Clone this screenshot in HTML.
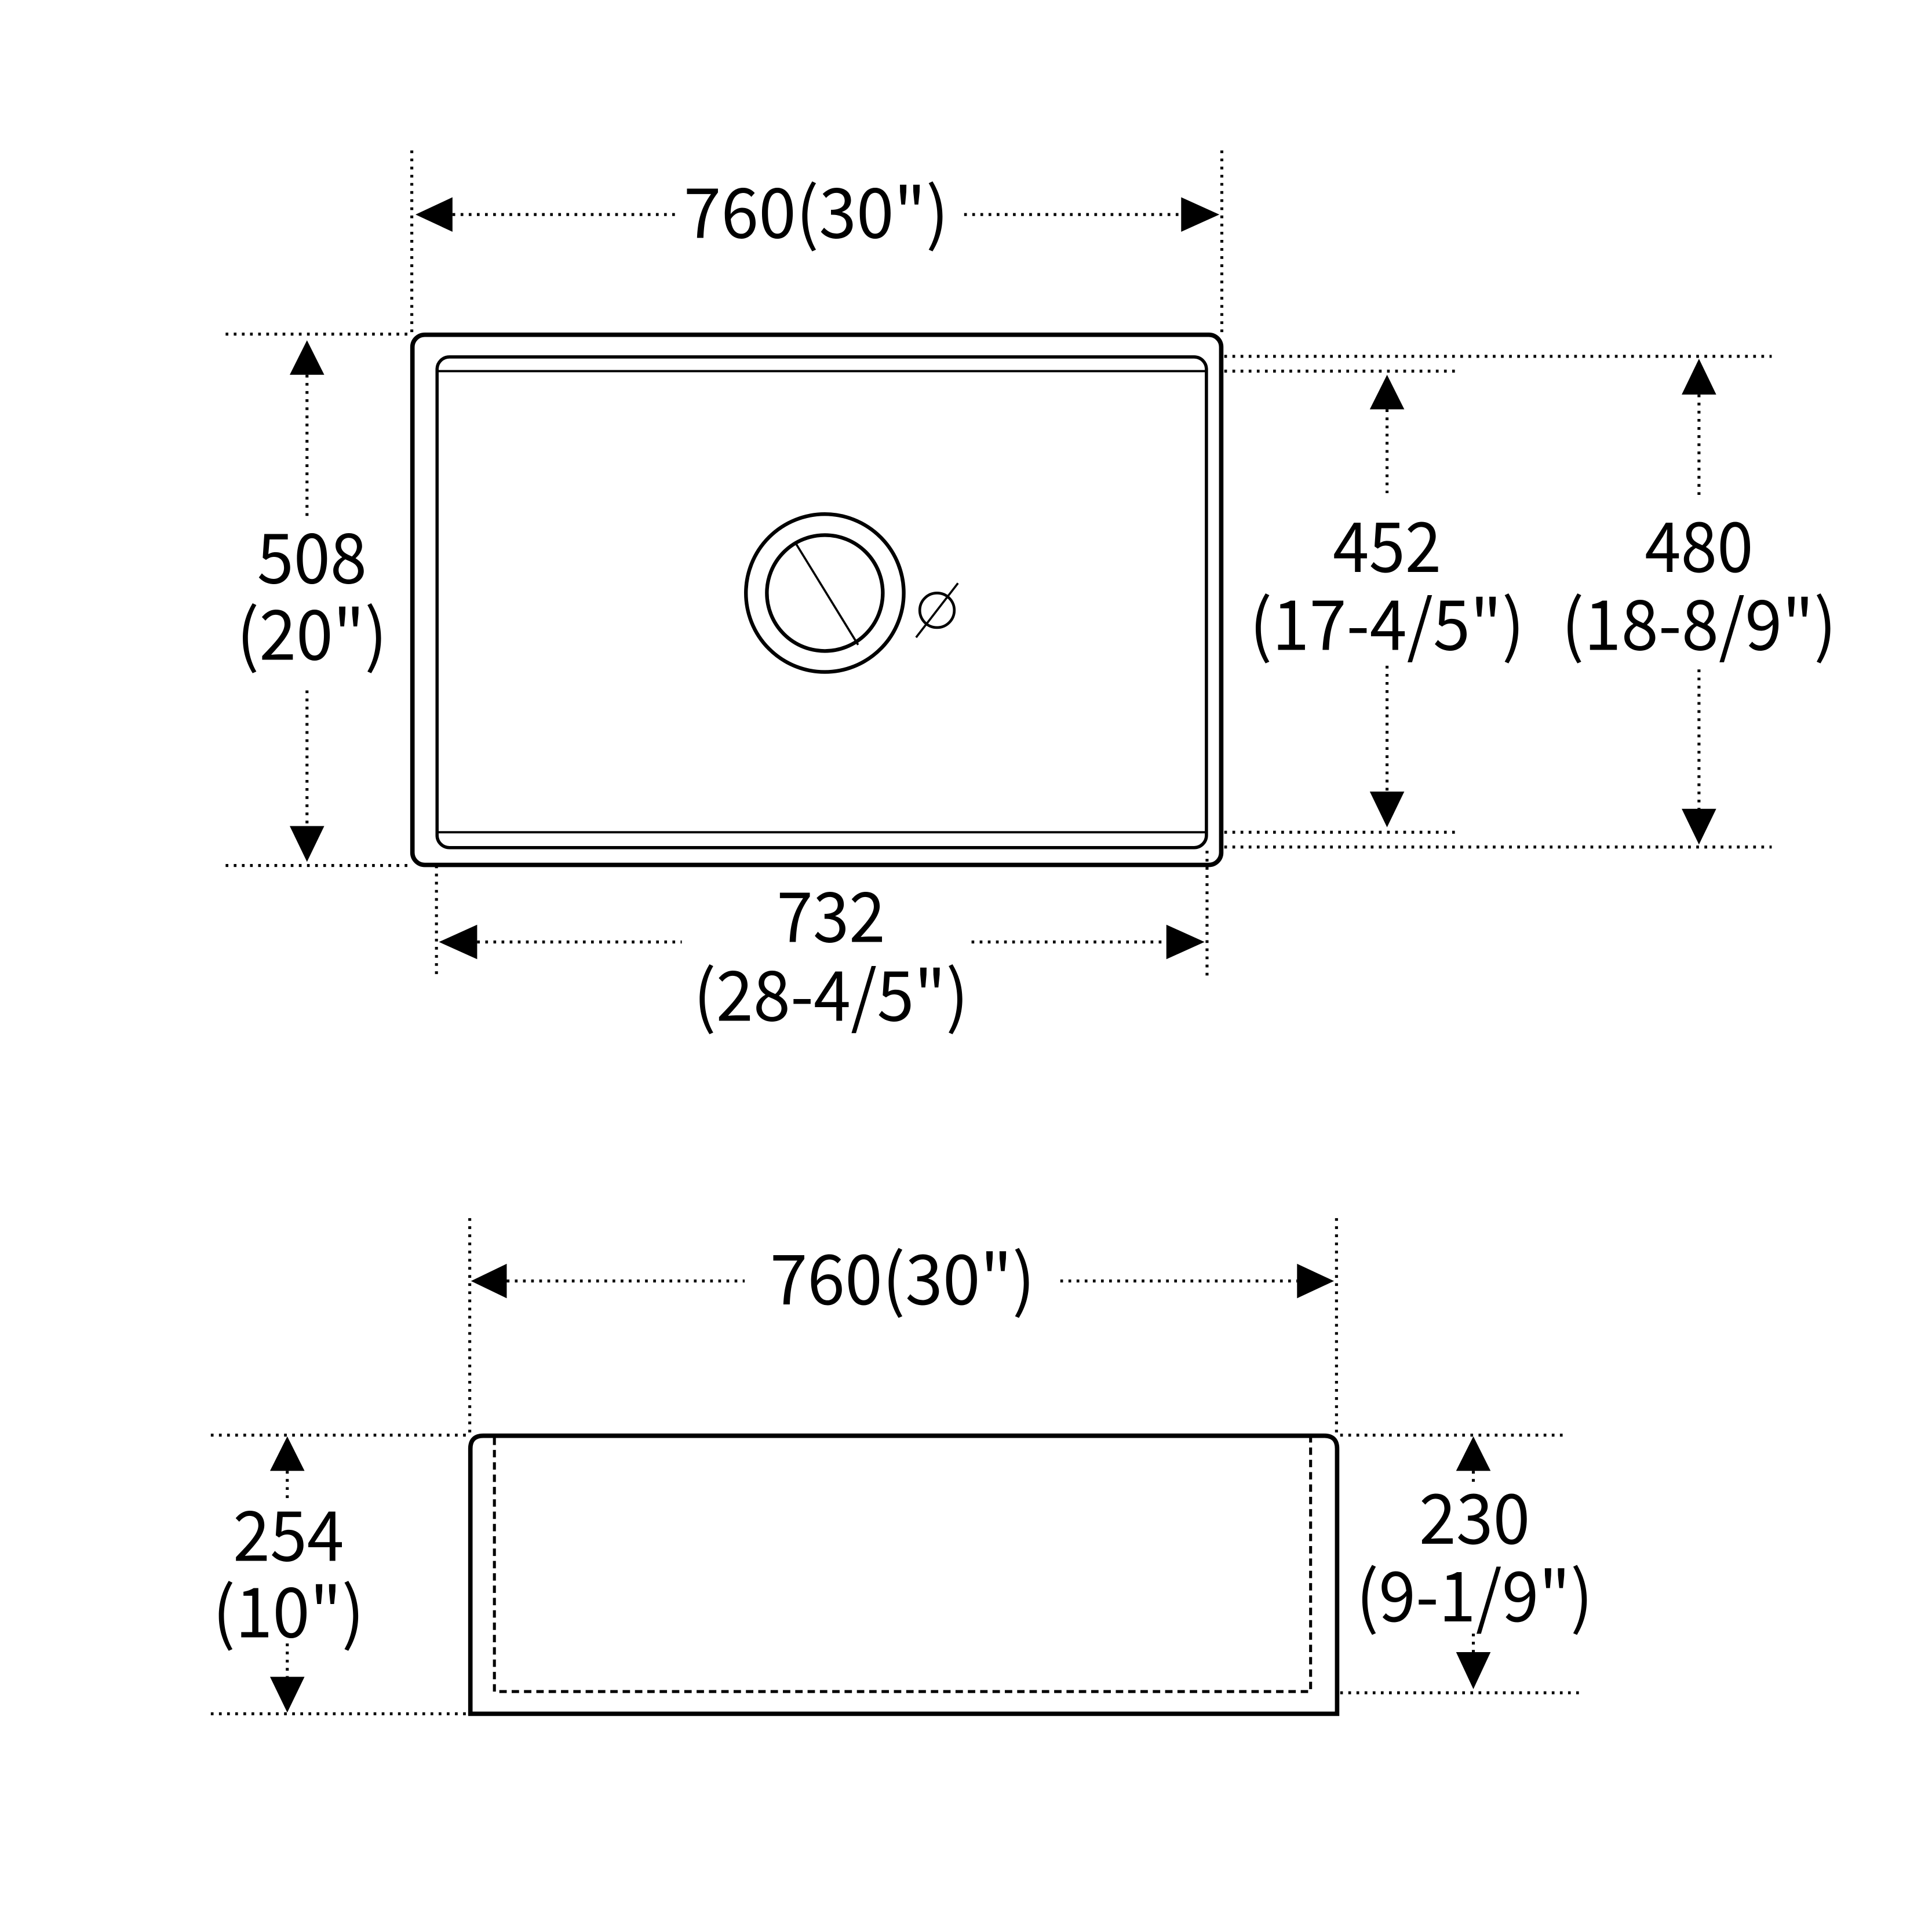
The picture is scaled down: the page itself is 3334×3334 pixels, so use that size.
<!DOCTYPE html>
<html><head><meta charset="utf-8"><style>
html,body{margin:0;padding:0;background:#fff}
svg{display:block}
text{font-family:"Noto Sans CJK SC","Liberation Sans",sans-serif;font-size:56px;fill:#000;text-anchor:middle}
.d{stroke:#000;stroke-width:2.4;stroke-dasharray:2.2 4.4;fill:none}
.s{stroke:#000;fill:none}
</style></head><body>
<svg width="3334" height="3334" viewBox="0 0 1567 1567" xmlns="http://www.w3.org/2000/svg">
<!-- TOP VIEW -->
<rect class="s" x="334.5" y="271.5" width="656" height="430" rx="10" stroke-width="3.6"/>
<rect class="s" x="354.5" y="289.5" width="624" height="398" rx="10" stroke-width="2.6"/>
<line class="s" x1="355" y1="301" x2="978" y2="301" stroke-width="1.8"/>
<line class="s" x1="355" y1="675" x2="978" y2="675" stroke-width="1.8"/>
<circle class="s" cx="669" cy="481" r="64" stroke-width="3"/>
<circle class="s" cx="669" cy="481" r="47" stroke-width="3"/>
<line class="s" x1="645" y1="440" x2="696" y2="523" stroke-width="1.7"/>
<circle class="s" cx="760" cy="495" r="14" stroke-width="2.2"/>
<line class="s" x1="743" y1="517" x2="777" y2="473" stroke-width="1.7"/>

<!-- top dim -->
<line class="d" x1="334" y1="122" x2="334" y2="271"/>
<line class="d" x1="991" y1="122" x2="991" y2="271"/>
<line class="d" x1="367" y1="174" x2="548" y2="174"/>
<line class="d" x1="782" y1="174" x2="958" y2="174"/>
<polygon points="337,174 367,160 367,188"/>
<polygon points="989,174 958,160 958,188"/>
<text x="662" y="193" textLength="215" lengthAdjust="spacingAndGlyphs">760(30")</text>

<!-- left dim 508 -->
<line class="d" x1="183" y1="271" x2="334" y2="271"/>
<line class="d" x1="183" y1="702" x2="334" y2="702"/>
<line class="d" x1="249" y1="304" x2="249" y2="420"/>
<line class="d" x1="249" y1="560" x2="249" y2="670"/>
<polygon points="249,276 235,304 263,304"/>
<polygon points="249,699 235,670 263,670"/>
<text x="253" y="473" textLength="89" lengthAdjust="spacingAndGlyphs">508</text>
<text x="253" y="535" textLength="122" lengthAdjust="spacingAndGlyphs">(20")</text>

<!-- bottom dim 732 -->
<line class="d" x1="354" y1="702" x2="354" y2="792"/>
<line class="d" x1="979" y1="690" x2="979" y2="792"/>
<line class="d" x1="387" y1="764" x2="553" y2="764"/>
<line class="d" x1="788" y1="764" x2="946" y2="764"/>
<polygon points="356,764 387,750 387,778"/>
<polygon points="977,764 946,750 946,778"/>
<text x="674" y="764" textLength="88" lengthAdjust="spacingAndGlyphs">732</text>
<text x="674" y="828" textLength="223" lengthAdjust="spacingAndGlyphs">(28-4/5")</text>

<!-- 452 -->
<line class="d" x1="993" y1="301" x2="1183" y2="301"/>
<line class="d" x1="993" y1="675" x2="1183" y2="675"/>
<line class="d" x1="1125" y1="332" x2="1125" y2="400"/>
<line class="d" x1="1125" y1="540" x2="1125" y2="642"/>
<polygon points="1125,304 1111,332 1139,332"/>
<polygon points="1125,671 1111,642 1139,642"/>
<text x="1125" y="464" textLength="88" lengthAdjust="spacingAndGlyphs">452</text>
<text x="1125" y="527" textLength="223" lengthAdjust="spacingAndGlyphs">(17-4/5")</text>

<!-- 480 -->
<line class="d" x1="993" y1="289" x2="1437" y2="289"/>
<line class="d" x1="993" y1="687" x2="1437" y2="687"/>
<line class="d" x1="1378" y1="320" x2="1378" y2="405"/>
<line class="d" x1="1378" y1="543" x2="1378" y2="656"/>
<polygon points="1378,291 1364,320 1392,320"/>
<polygon points="1378,685 1364,656 1392,656"/>
<text x="1378" y="464" textLength="88" lengthAdjust="spacingAndGlyphs">480</text>
<text x="1378" y="527" textLength="223" lengthAdjust="spacingAndGlyphs">(18-8/9")</text>

<!-- FRONT VIEW -->
<path class="s" d="M381.5,1390 L381.5,1175 Q381.5,1164.5 392,1164.5 L1074,1164.5 Q1084.5,1164.5 1084.5,1175 L1084.5,1390 Z" stroke-width="3.6"/>
<path class="s" d="M401,1166 L401,1372 L1063,1372 L1063,1166" stroke-width="2.4" stroke-dasharray="6 4"/>

<line class="d" x1="381" y1="988" x2="381" y2="1164"/>
<line class="d" x1="1084" y1="988" x2="1084" y2="1164"/>
<line class="d" x1="411" y1="1039" x2="604" y2="1039"/>
<line class="d" x1="860" y1="1039" x2="1052" y2="1039"/>
<polygon points="382,1039 411,1025 411,1053"/>
<polygon points="1082,1039 1052,1025 1052,1053"/>
<text x="732" y="1058" textLength="215" lengthAdjust="spacingAndGlyphs">760(30")</text>

<!-- 254 -->
<line class="d" x1="171" y1="1164" x2="381" y2="1164"/>
<line class="d" x1="171" y1="1390" x2="381" y2="1390"/>
<line class="d" x1="233" y1="1193" x2="233" y2="1218"/>
<line class="d" x1="233" y1="1333" x2="233" y2="1360"/>
<polygon points="233,1165 219,1193 247,1193"/>
<polygon points="233,1389 219,1360 247,1360"/>
<text x="234" y="1266" textLength="90" lengthAdjust="spacingAndGlyphs">254</text>
<text x="234" y="1328" textLength="123" lengthAdjust="spacingAndGlyphs">(10")</text>

<!-- 230 -->
<line class="d" x1="1087" y1="1164" x2="1268" y2="1164"/>
<line class="d" x1="1087" y1="1373" x2="1282" y2="1373"/>
<line class="d" x1="1195" y1="1193" x2="1195" y2="1205"/>
<line class="d" x1="1195" y1="1325" x2="1195" y2="1340"/>
<polygon points="1195,1165 1181,1193 1209,1193"/>
<polygon points="1195,1370 1181,1340 1209,1340"/>
<text x="1196" y="1252" textLength="90" lengthAdjust="spacingAndGlyphs">230</text>
<text x="1196" y="1315" textLength="192" lengthAdjust="spacingAndGlyphs">(9-1/9")</text>
</svg>
</body></html>
